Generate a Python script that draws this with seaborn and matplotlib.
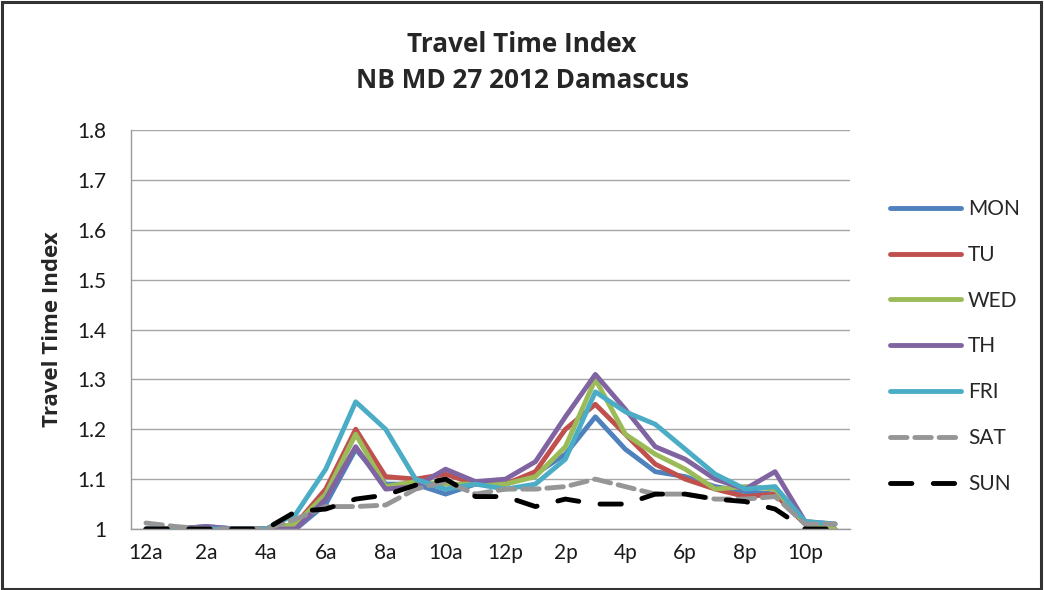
import matplotlib
matplotlib.use("Agg")
import matplotlib.pyplot as plt
import seaborn as sns
import pandas as pd
from matplotlib.patches import Rectangle

# Hourly travel time index by day of week, NB MD 27, 2012
hours = list(range(24))
hour_labels = ["12a", "2a", "4a", "6a", "8a", "10a", "12p", "2p", "4p", "6p", "8p", "10p"]

MON = [1.00, 1.00, 1.005, 1.00, 1.00, 1.00, 1.05, 1.16, 1.09, 1.09, 1.07, 1.09,
       1.09, 1.11, 1.15, 1.225, 1.16, 1.115, 1.105, 1.085, 1.075, 1.07, 1.01, 1.00]
TU = [1.00, 1.00, 1.00, 1.00, 1.00, 1.01, 1.08, 1.20, 1.105, 1.10, 1.11, 1.09,
      1.09, 1.115, 1.20, 1.25, 1.19, 1.13, 1.10, 1.08, 1.065, 1.07, 1.01, 1.00]
WED = [1.00, 1.00, 1.00, 1.00, 1.00, 1.01, 1.07, 1.19, 1.085, 1.095, 1.09, 1.09,
       1.09, 1.105, 1.165, 1.30, 1.19, 1.15, 1.12, 1.08, 1.085, 1.08, 1.01, 1.00]
TH = [1.00, 1.00, 1.005, 1.00, 1.00, 1.00, 1.06, 1.165, 1.08, 1.085, 1.12, 1.095,
      1.10, 1.135, 1.225, 1.31, 1.24, 1.165, 1.14, 1.10, 1.08, 1.115, 1.015, 1.01]
FRI = [1.00, 1.00, 1.00, 1.00, 1.00, 1.03, 1.12, 1.255, 1.20, 1.10, 1.08, 1.09,
       1.08, 1.09, 1.14, 1.275, 1.235, 1.21, 1.16, 1.11, 1.08, 1.085, 1.015, 1.01]
SAT = [1.012, 1.005, 1.00, 1.00, 1.00, 1.02, 1.045, 1.045, 1.048, 1.08, 1.095, 1.07,
       1.08, 1.08, 1.085, 1.10, 1.085, 1.07, 1.07, 1.06, 1.06, 1.065, 1.01, 1.01]
SUN = [1.00, 1.00, 1.00, 1.00, 1.00, 1.035, 1.04, 1.06, 1.068, 1.088, 1.10, 1.065,
       1.065, 1.045, 1.06, 1.05, 1.05, 1.07, 1.07, 1.06, 1.055, 1.04, 1.00, 1.00]

days = ["MON", "TU", "WED", "TH", "FRI", "SAT", "SUN"]
series = [MON, TU, WED, TH, FRI, SAT, SUN]
colors = ["#4F81BD", "#C0504D", "#9BBB59", "#8064A2", "#4BACC6", "#969696", "#000000"]
dashes = [None, None, None, None, None, (3.4, 1.6), (4.4, 4.4)]

sns.set_theme(style="white")
plt.rcParams["font.family"] = ["Lato", "DejaVu Sans"]

fig = plt.figure(figsize=(10.44, 5.9), dpi=100)
ax = fig.add_axes([131 / 1044, 1 - 529 / 590, (850 - 131) / 1044, (529 - 130) / 590])

for day, vals, col, dsh in zip(days, series, colors, dashes):
    df = pd.DataFrame({"hour": hours, "tti": vals})
    sns.lineplot(data=df, x="hour", y="tti", ax=ax, color=col, label=day,
                 linewidth=3.5, legend=False)
    line = ax.lines[-1]
    line.set_solid_capstyle("round")
    line.set_solid_joinstyle("round")
    if dsh is not None:
        line.set_dashes(dsh)
        line.set_dash_capstyle("round")

ax.set_xlim(-0.5, 23.5)
ax.set_ylim(1.0, 1.8)
ax.set_xticks(hours[::2])
ax.set_xticklabels(hour_labels, fontsize=15, color="#1a1a1a")
yt = [1.0 + 0.1 * i for i in range(9)]
ax.set_yticks(yt)
ax.set_yticklabels(["1"] + [f"{v:.1f}" for v in yt[1:]], fontsize=15, color="#1a1a1a")
ax.tick_params(axis="y", length=0, pad=18)
ax.tick_params(axis="x", length=0, pad=10)
ax.yaxis.grid(True, color="#A6A6A6", linewidth=1.0)
ax.xaxis.grid(False)
ax.set_axisbelow(True)
for side in ["top", "right"]:
    ax.spines[side].set_visible(False)
for side in ["left", "bottom"]:
    ax.spines[side].set_color("#9A9A9A")
    ax.spines[side].set_linewidth(1.0)

ax.set_xlabel("")
ax.set_ylabel("Travel Time Index", fontsize=16, fontweight="bold", labelpad=10,
              family=["Open Sans", "DejaVu Sans"])

for ypx, txt in [(44, "Travel Time Index"), (80, "NB MD 27 2012 Damascus")]:
    fig.text(0.5, 1 - ypx / 590, txt, ha="center", va="center", fontsize=18.8,
             fontweight="bold", family=["Open Sans", "DejaVu Sans"])

leg = ax.legend(loc="upper left", bbox_to_anchor=(890 / 1044, 1 - 199 / 590),
                bbox_transform=fig.transFigure, frameon=False, fontsize=15,
                handlelength=3.4, handletextpad=0.35, labelspacing=1.24,
                borderaxespad=0, borderpad=0)

fig.add_artist(Rectangle((0.002, 0.002), 0.995, 0.995, transform=fig.transFigure,
                         fill=False, edgecolor="#333333", linewidth=2.2))

fig.savefig("out.png", dpi=100)
